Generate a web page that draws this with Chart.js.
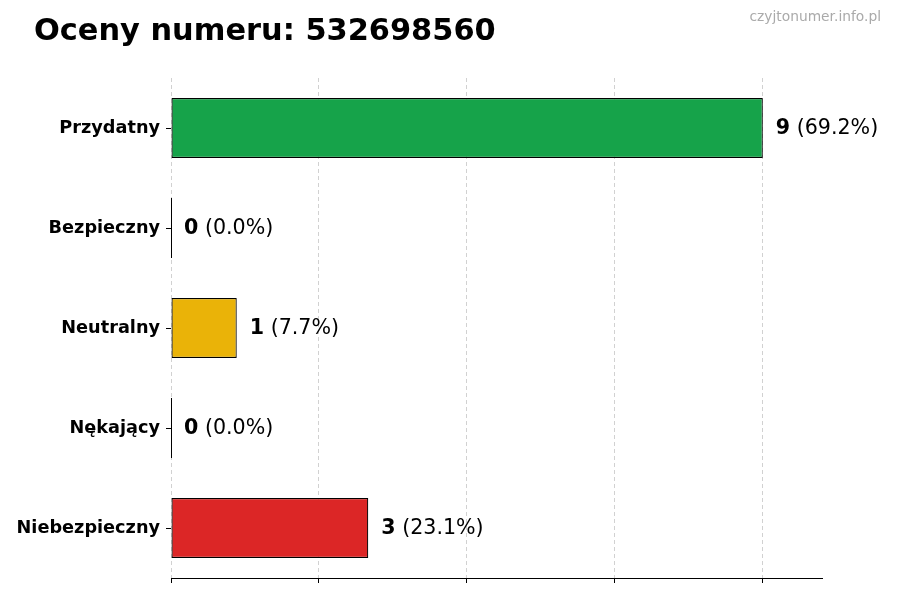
<!DOCTYPE html>
<html lang="pl">
<head>
<meta charset="utf-8">
<title>Oceny numeru: 532698560</title>
<script src="https://cdn.jsdelivr.net/npm/chart.js@4.4.1/dist/chart.umd.min.js"></script>
<style>
    html, body {
        margin: 0;
        padding: 0;
        background: #fff;
        font-family: "DejaVu Sans", sans-serif;
    }
    #wrap {
        position: relative;
        width: 900px;
        height: 600px;
    }
    #title {
        position: absolute;
        left: 34px;
        top: 12px;
        font-size: 30.4px;
        font-weight: bold;
        color: #000;
        white-space: nowrap;
    }
    #source {
        position: absolute;
        right: 19px;
        top: 8px;
        font-size: 13.8px;
        color: #aaa;
        white-space: nowrap;
    }
</style>
</head>
<body>
<div id="wrap">
    <canvas id="ratings-chart" width="900" height="600"></canvas>
    <div id="title">Oceny numeru: 532698560</div>
    <div id="source">czyjtonumer.info.pl</div>
</div>
<script>
const categories = ["Przydatny", "Bezpieczny", "Neutralny", "Nękający", "Niebezpieczny"];
const counts = [9, 0, 1, 0, 3];
const barColors = ["#16a34a", "#2563eb", "#eab308", "#ea580c", "#dc2626"];
const xTicks = [0, 2.25, 4.5, 6.75, 9];

const total = counts.reduce((a, b) => a + b, 0);

// value labels + outline for empty bars
const barLabels = {
    id: "barLabels",
    afterDatasetsDraw(chart) {
        const ctx = chart.ctx;
        const meta = chart.getDatasetMeta(0);
        ctx.save();
        meta.data.forEach((bar, i) => {
            const value = counts[i];
            if (value === 0) {
                ctx.strokeStyle = "#000";
                ctx.lineWidth = 1;
                ctx.beginPath();
                ctx.moveTo(bar.x + 0.5, bar.y - bar.height / 2);
                ctx.lineTo(bar.x + 0.5, bar.y + bar.height / 2);
                ctx.stroke();
            }
            const pct = total ? (value / total * 100).toFixed(1) : "0.0";
            let x = bar.x + 13;
            const y = bar.y + 1;
            ctx.textBaseline = "middle";
            ctx.textAlign = "left";
            ctx.fillStyle = "#000";
            ctx.font = "bold 20.6px 'DejaVu Sans'";
            const num = String(value);
            ctx.fillText(num, x, y);
            x += ctx.measureText(num).width;
            ctx.font = "20.6px 'DejaVu Sans'";
            ctx.fillText(" (" + pct + "%)", x, y);
        });
        ctx.restore();
    },
};

new Chart(document.getElementById("ratings-chart"), {
    type: "bar",
    data: {
        labels: categories,
        datasets: [
            {
                data: counts,
                backgroundColor: barColors,
                borderColor: "#000",
                borderWidth: 1.2,
                borderSkipped: false,
                barPercentage: 0.6,
                categoryPercentage: 1,
            },
        ],
    },
    options: {
        indexAxis: "y",
        responsive: false,
        animation: false,
        layout: {
            padding: { top: 78, right: 78, left: 0, bottom: 0 },
        },
        plugins: {
            legend: { display: false },
            tooltip: { enabled: false },
            title: { display: false },
        },
        scales: {
            x: {
                min: 0,
                max: 9.9,
                z: 1,
                afterBuildTicks: (scale) => {
                    scale.ticks = xTicks.map((v) => ({ value: v }));
                },
                afterFit: (scale) => {
                    scale.height = 22;
                },
                ticks: { display: false },
                grid: {
                    color: "rgba(0,0,0,0.18)",
                    tickColor: "#000",
                    tickLength: 5,
                    tickBorderDash: [],
                    lineWidth: 1,
                },
                border: {
                    display: true,
                    color: "#000",
                    width: 1,
                    dash: [4, 3],
                },
            },
            y: {
                afterFit: (scale) => {
                    scale.width = 171;
                },
                ticks: {
                    color: "#000",
                    padding: 6,
                    font: { family: "'DejaVu Sans'", size: 17.7, weight: "bold" },
                },
                grid: {
                    offset: false,
                    drawOnChartArea: false,
                    tickColor: "#000",
                    tickLength: 5,
                },
                border: { display: false },
            },
        },
    },
    plugins: [barLabels],
});
</script>
</body>
</html>
